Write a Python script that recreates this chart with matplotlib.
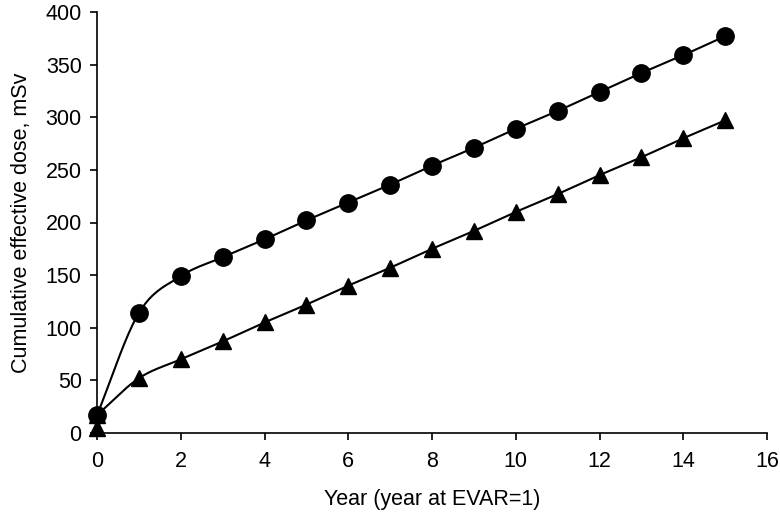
import numpy as np
import matplotlib
matplotlib.use("Agg")
import matplotlib.pyplot as plt

plt.rcParams['font.family'] = ['Liberation Sans', 'DejaVu Sans']

years = [0, 1, 2, 3, 4, 5, 6, 7, 8, 9, 10, 11, 12, 13, 14, 15]
dose_circle = [17, 114, 149, 167, 184, 202, 219, 236, 254, 271, 289, 306, 324, 342, 359, 377]
dose_triangle = [17, 52, 70, 87, 105, 122, 140, 157, 175, 192, 210, 227, 245, 262, 280, 297]
baseline_year = [0]
baseline_triangle = [5]

x_ticks = [0, 2, 4, 6, 8, 10, 12, 14, 16]
y_ticks = [0, 50, 100, 150, 200, 250, 300, 350, 400]


def smooth_curve(x, y, n=20):
    """Catmull-Rom curve through the points, like a spreadsheet smoothed line."""
    x = np.asarray(x, float)
    y = np.asarray(y, float)
    px = np.concatenate([[2 * x[0] - x[1]], x, [2 * x[-1] - x[-2]]])
    py = np.concatenate([[2 * y[0] - y[1]], y, [2 * y[-1] - y[-2]]])
    xs, ys = [], []
    t = np.linspace(0, 1, n, endpoint=False)
    for i in range(1, len(px) - 2):
        p0, p1, p2, p3 = (np.array([px[j], py[j]]) for j in range(i - 1, i + 3))
        c1 = p1 + (p2 - p0) / 6
        c2 = p2 - (p3 - p1) / 6
        b = ((1 - t) ** 3)[:, None] * p1 + (3 * (1 - t) ** 2 * t)[:, None] * c1 \
            + (3 * (1 - t) * t ** 2)[:, None] * c2 + (t ** 3)[:, None] * p2
        xs.append(b[:, 0])
        ys.append(b[:, 1])
    xs.append([x[-1]])
    ys.append([y[-1]])
    return np.concatenate(xs), np.concatenate(ys)


fig = plt.figure(figsize=(7.8, 5.22), dpi=100)
ax = fig.add_axes([97 / 780, 1 - 433 / 522, 670 / 780, 421 / 522])

FS = 15.5

for yv, marker, ms in [(dose_triangle, '^', 12), (dose_circle, 'o', 12.5)]:
    sx, sy = smooth_curve(years, yv)
    ax.plot(sx, sy, color='black', lw=1.5, clip_on=False)
    ax.plot(years, yv, linestyle='none', marker=marker, markersize=ms,
            color='black', clip_on=False, zorder=3)
ax.plot(baseline_year, baseline_triangle, linestyle='none', marker='^',
        markersize=12, color='black', clip_on=False, zorder=3)

ax.set_xlim(0, 16)
ax.set_ylim(0, 400)
ax.set_xticks(x_ticks)
ax.set_yticks(y_ticks)
ax.spines['top'].set_visible(False)
ax.spines['right'].set_visible(False)
for s in ('left', 'bottom'):
    ax.spines[s].set_linewidth(1.2)
ax.tick_params(direction='out', length=5, width=1.2, labelsize=FS)
ax.tick_params(axis='x', pad=8)
ax.tick_params(axis='y', pad=6)

ax.set_xlabel('Year (year at EVAR=1)', fontsize=FS, labelpad=12)
ax.set_ylabel('Cumulative effective dose, mSv', fontsize=FS, labelpad=10)

fig.savefig('out.png', dpi=100)
